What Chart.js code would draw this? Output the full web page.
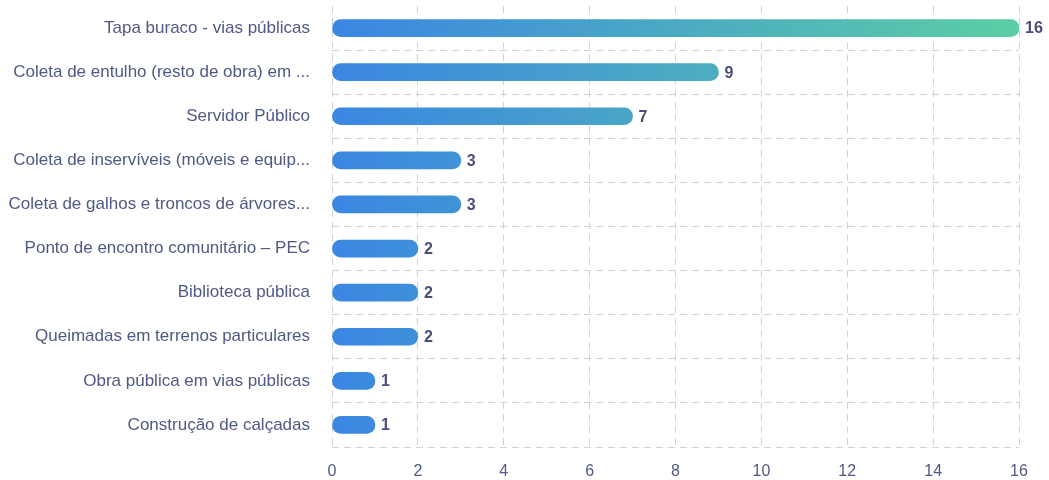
<!DOCTYPE html>
<html lang="pt-BR">
<head>
<meta charset="utf-8">
<title>Solicitações por serviço</title>
<script src="https://cdn.jsdelivr.net/npm/chart.js@4/dist/chart.umd.min.js"></script>
<style>
    html, body { margin: 0; padding: 0; background: #ffffff; }
    #wrap { width: 1049px; height: 480px; position: relative; }
</style>
</head>
<body>
<div id="wrap"><canvas id="servicosChart"></canvas></div>
<script>
// Categorias e totais de solicitações
const categorias = [
    'Tapa buraco - vias públicas',
    'Coleta de entulho (resto de obra) em ...',
    'Servidor Público',
    'Coleta de inservíveis (móveis e equip...',
    'Coleta de galhos e troncos de árvores...',
    'Ponto de encontro comunitário – PEC',
    'Biblioteca pública',
    'Queimadas em terrenos particulares',
    'Obra pública em vias públicas',
    'Construção de calçadas'
];
const totais = [16, 9, 7, 3, 3, 2, 2, 2, 1, 1];
const eixoX = { min: 0, max: 16, passo: 2 };

const corTexto = '#4f5985';
const corValor = '#4a4d7c';
const corGrade = '#d2d2d2';
const fonte = '"Liberation Sans", Arial, sans-serif';

// Gradient across the whole plot width: blue on the left, teal-green on the right
function gradienteBarra(ctx) {
    const chart = ctx.chart;
    const area = chart.chartArea;
    if (!area) return '#3b87e2';
    const g = chart.ctx.createLinearGradient(area.left, 0, area.right, 0);
    g.addColorStop(0, '#3a86e2');
    g.addColorStop(1, '#5ccea4');
    return g;
}

// Value printed just after the end of each bar
const rotuloValor = {
    id: 'rotuloValor',
    afterDatasetsDraw(chart) {
        const c = chart.ctx;
        const meta = chart.getDatasetMeta(0);
        c.save();
        c.font = 'bold 16px ' + fonte;
        c.fillStyle = corValor;
        c.textAlign = 'left';
        c.textBaseline = 'middle';
        meta.data.forEach((bar, i) => {
            c.fillText(String(totais[i]), bar.x + 6, bar.y + 1);
        });
        c.restore();
    }
};

Chart.defaults.font.family = fonte;
Chart.defaults.color = corTexto;

new Chart(document.getElementById('servicosChart'), {
    type: 'bar',
    data: {
        labels: categorias,
        datasets: [{
            data: totais,
            backgroundColor: gradienteBarra,
            borderRadius: 9,
            borderSkipped: false,
            barThickness: 17
        }]
    },
    options: {
        indexAxis: 'y',
        responsive: true,
        maintainAspectRatio: false,
        animation: false,
        layout: { padding: { top: 6, right: 30, left: 0, bottom: 0 } },
        plugins: {
            legend: { display: false },
            tooltip: { enabled: false }
        },
        scales: {
            x: {
                min: eixoX.min,
                max: eixoX.max,
                ticks: { stepSize: eixoX.passo, padding: 15, color: corTexto, font: { size: 16 } },
                border: { display: false, dash: [7, 5] },
                grid: { color: corGrade, drawTicks: false, lineWidth: 1 },
                afterFit: s => { s.height = 33; }
            },
            y: {
                ticks: { padding: 22, color: corTexto, autoSkip: false, font: { size: 17 } },
                border: { display: false, dash: [7, 5] },
                grid: {
                    offset: true,
                    drawTicks: false,
                    // no line above the first row
                    color: ctx => ctx.index === 0 ? 'rgba(0,0,0,0)' : corGrade
                },
                afterFit: s => {
                    s.width = 332;
                    // the label padding should not push the plot down
                    s.paddingTop = 0;
                    s.paddingBottom = 0;
                }
            }
        }
    },
    plugins: [rotuloValor]
});
</script>
</body>
</html>
